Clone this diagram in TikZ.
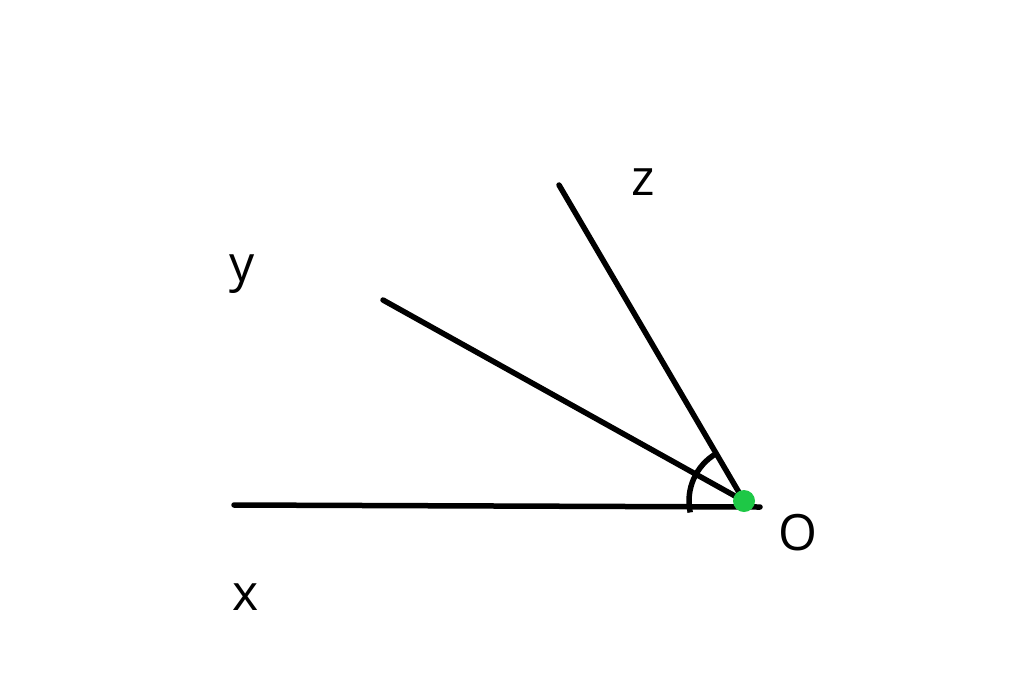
\documentclass[tikz,border=0pt]{standalone}
\usepackage{fontspec}
\setmainfont{Open Sans}
\begin{document}
\begin{tikzpicture}[x=1pt,y=-1pt,
  ray/.style={line width=5.5pt,line cap=round,black},
  lbl/.style={font=\fontsize{50}{56}\selectfont,inner sep=0pt}]
\useasboundingbox (0,0) rectangle (1024,673);
\coordinate (O) at (744,501);
\coordinate (X) at (234,505);
\coordinate (XE) at (760,507);
\coordinate (Y) at (383,300);
\coordinate (Z) at (559,185);
\draw[ray] (X) -- (XE);
\draw[ray] (Y) -- (O);
\draw[ray] (Z) -- (O);
\draw[ray,line cap=butt] (O) ++(168:55) arc[start angle=168,end angle=240,radius=55];
\fill[fill={rgb,255:red,30;green,200;blue,70}] (O) circle (11);
\node[lbl] (lx) at (246,597) {x};
\node[lbl] (ly) at (242,274) {y};
\node[lbl] (lz) at (643,182) {z};
\node[lbl] (lO) at (798,533) {O};
\end{tikzpicture}
\end{document}
